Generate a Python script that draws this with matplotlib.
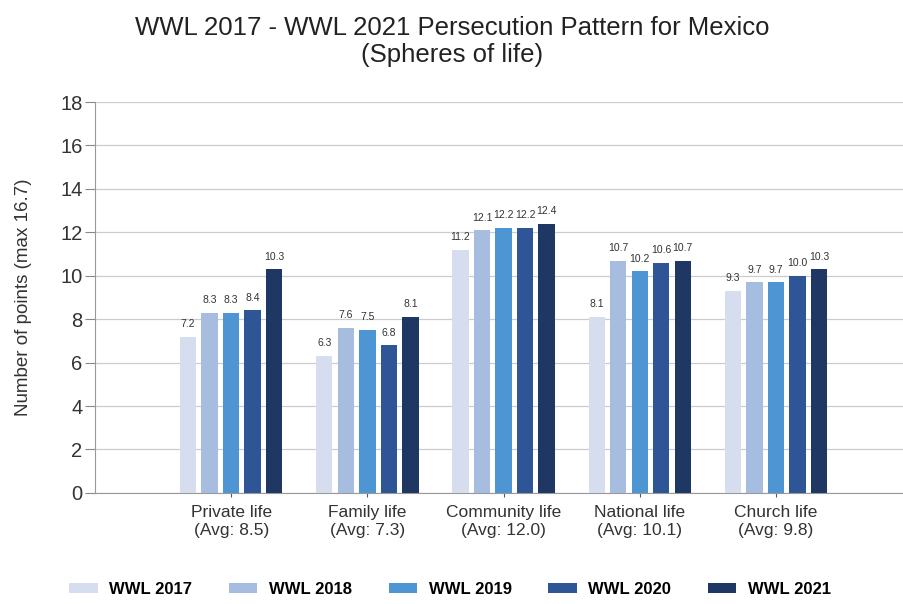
import numpy as np
import matplotlib.pyplot as plt
from matplotlib.patches import Patch

plt.rcParams['font.family'] = ['Liberation Sans', 'DejaVu Sans']

# --- data ---
spheres = ["Private life\n(Avg: 8.5)", "Family life\n(Avg: 7.3)", "Community life\n(Avg: 12.0)",
           "National life\n(Avg: 10.1)", "Church life\n(Avg: 9.8)"]
years = ["WWL 2017", "WWL 2018", "WWL 2019", "WWL 2020", "WWL 2021"]
wwl_2017 = [7.2, 6.3, 11.2, 8.1, 9.3]
wwl_2018 = [8.3, 7.6, 12.1, 10.7, 9.7]
wwl_2019 = [8.3, 7.5, 12.2, 10.2, 9.7]
wwl_2020 = [8.4, 6.8, 12.2, 10.6, 10.0]
wwl_2021 = [10.3, 8.1, 12.4, 10.7, 10.3]
colors = ["#d5ddef", "#a7bde0", "#4e96d3", "#2e5596", "#1e3763"]

series = [wwl_2017, wwl_2018, wwl_2019, wwl_2020, wwl_2021]

fig = plt.figure(figsize=(9.04, 6.04), dpi=100)
ax = fig.add_axes([0.105, 0.184, 0.895, 0.647])

x = np.arange(len(spheres))
step = 0.158
width = 0.12

for i, (vals, col) in enumerate(zip(series, colors)):
    pos = x + (i - 2) * step
    ax.bar(pos, vals, width=width, color=col, zorder=3)
    for px, v in zip(pos, vals):
        ax.text(px, v + 0.35, f"{v:.1f}", ha='center', va='bottom', fontsize=7.5, color='#333333')

ax.set_ylim(0, 18)
ax.set_xlim(-1, 4.94)
ax.set_yticks(range(0, 19, 2))
ax.set_xticks(x)
ax.set_xticklabels(spheres, fontsize=12.5, color='#333333')
ax.tick_params(axis='y', labelsize=14.5, colors='#333333', length=7, pad=2, color='#888888')
ax.tick_params(axis='x', length=3, pad=6, color='#555555')
ax.grid(axis='y', color='#cccccc', linewidth=0.9, zorder=0)
for s in ['top', 'right']:
    ax.spines[s].set_visible(False)
ax.spines['left'].set_color('#999999')
ax.spines['bottom'].set_color('#999999')
ax.set_ylabel("Number of points (max 16.7)", fontsize=13.5, color='#333333', labelpad=20)

fig.suptitle("WWL 2017 - WWL 2021 Persecution Pattern for Mexico\n(Spheres of life)",
             fontsize=18.5, y=0.973, color='#222222', linespacing=1.15)

handles = [Patch(facecolor=c, edgecolor='none') for c in colors]
fig.legend(handles, years, loc='center', bbox_to_anchor=(0.498, 0.024), ncol=5,
           frameon=False, handlelength=1.7, handleheight=0.55, handletextpad=0.7,
           columnspacing=2.2, prop={'weight': 'bold', 'size': 12})

fig.savefig("out.png", dpi=100)
